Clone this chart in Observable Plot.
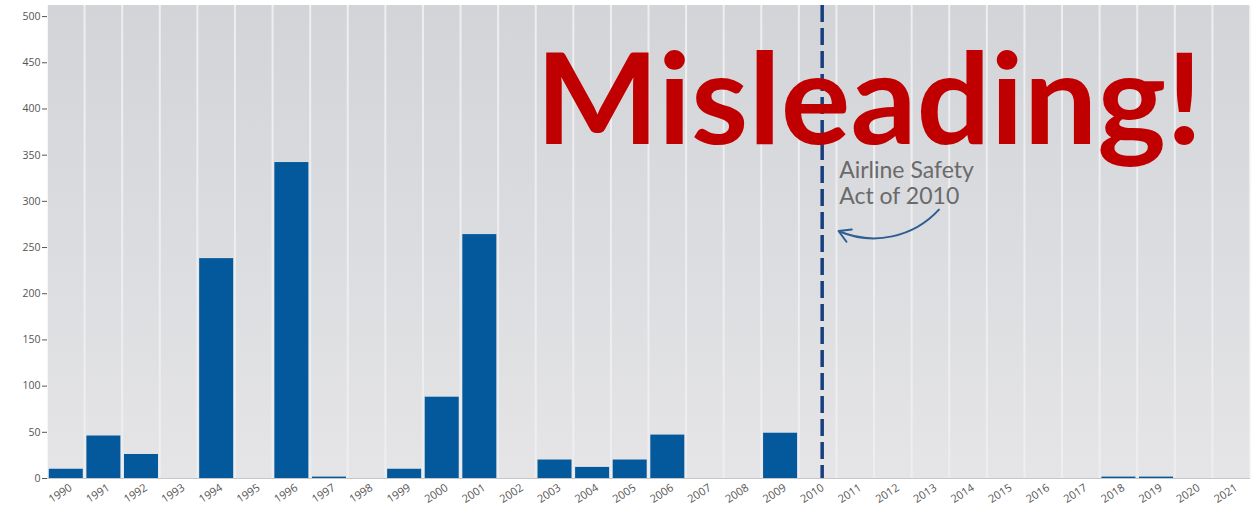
<!DOCTYPE html>
<html>
<head>
<meta charset="utf-8">
<script src="https://cdn.jsdelivr.net/npm/d3@7"></script>
<script src="https://cdn.jsdelivr.net/npm/@observablehq/plot@0.6"></script>
<style>
  html, body { margin: 0; padding: 0; background: #ffffff; }
  #chart svg { display: block; }
</style>
</head>
<body>
<div id="chart"></div>
<script>
// ---- Data ----
const years = ["1990","1991","1992","1993","1994","1995","1996","1997","1998","1999",
               "2000","2001","2002","2003","2004","2005","2006","2007","2008","2009",
               "2010","2011","2012","2013","2014","2015","2016","2017","2018","2019",
               "2020","2021"];
const fatalities = [10, 46, 26, 0, 238, 0, 342, 1.5, 0, 10,
                    88, 264, 0, 20, 12, 20, 47, 0, 0, 49,
                    0, 0, 0, 0, 0, 0, 0, 0, 1.5, 1.5,
                    0, 0];
const yTicks = [0, 50, 100, 150, 200, 250, 300, 350, 400, 450, 500];
const yMax = 512;
const markerYear = "2010";
const annotationLines = ["Airline Safety", "Act of 2010"];
const annotationY = 345;
const arrowFrom = {year: "2013", value: 291};
const arrowTo = {year: "2010", value: 275};
const headline = "Misleading!";
const headlineY = 362;

const data = years.map((year, i) => ({year, value: fatalities[i]}));

// gradient defs mark
const defsMark = () => {
  const ns = "http://www.w3.org/2000/svg";
  const defs = document.createElementNS(ns, "defs");
  defs.innerHTML = `<linearGradient id="colgrad" x1="0" y1="0" x2="0" y2="1">
      <stop offset="0" stop-color="#d3d4d8"/>
      <stop offset="0.55" stop-color="#dcdde0"/>
      <stop offset="1" stop-color="#e5e5e7"/>
    </linearGradient>`;
  return defs;
};

const chart = Plot.plot({
  width: 1251,
  height: 508,
  marginLeft: 47,
  marginRight: 1,
  marginTop: 5,
  marginBottom: 30,
  style: {fontFamily: "'Open Sans', sans-serif", background: "transparent"},
  x: {type: "band", domain: years, padding: 0, round: false, label: null, axis: null},
  y: {domain: [0, yMax], label: null, axis: null},
  marks: [
    defsMark,
    Plot.frame({fill: "#eeeef0", stroke: null}),
    Plot.barY(years, {x: d => d, y1: 0, y2: yMax, fill: "url(#colgrad)", insetLeft: 1, insetRight: 1}),
    Plot.ruleY([0], {stroke: "#c6c6ca", strokeWidth: 1}),
    Plot.barY(data, {x: "year", y: "value", fill: "#03599c", insetLeft: 1.8, insetRight: 1.8}),
    Plot.ruleX([markerYear], {stroke: "#173f7f", strokeWidth: 3.5, strokeDasharray: "17,6", dx: 4}),
    Plot.axisY({ticks: yTicks, tickSize: 5, tickPadding: 2, fontSize: 10.5, color: "#555", label: null}),
    Plot.text(years, {x: d => d, frameAnchor: "bottom", dy: 18, dx: -4, rotate: -33,
                      textAnchor: "middle", fontSize: 11, fill: "#555"}),
    Plot.text([annotationLines.join("\n")], {x: () => markerYear, y: () => annotationY, dx: 21,
      textAnchor: "start", lineAnchor: "top", fontSize: 23, lineHeight: 1.12,
      fill: "#6a6a6a", fontFamily: "Lato, sans-serif"}),
    Plot.arrow([0], {x1: () => arrowFrom.year, y1: () => arrowFrom.value,
      x2: () => arrowTo.year, y2: () => arrowTo.value, dx: 8, bend: 40, insetEnd: 14,
      stroke: "#2e5d92", strokeWidth: 2, headLength: 10}),
    Plot.text([headline], {x: () => markerYear, y: () => headlineY, dx: 51, textAnchor: "middle",
      lineAnchor: "bottom", fontSize: 126, fontWeight: "bold", fill: "#c00000",
      fontFamily: "Lato, sans-serif"})
  ]
});

document.getElementById("chart").appendChild(chart);
// fit headline width to reference
chart.querySelectorAll("text").forEach(t => {
  if (t.textContent === headline) {
    t.setAttribute("textLength", 667);
    t.setAttribute("lengthAdjust", "spacingAndGlyphs");
  }
});
</script>
</body>
</html>
